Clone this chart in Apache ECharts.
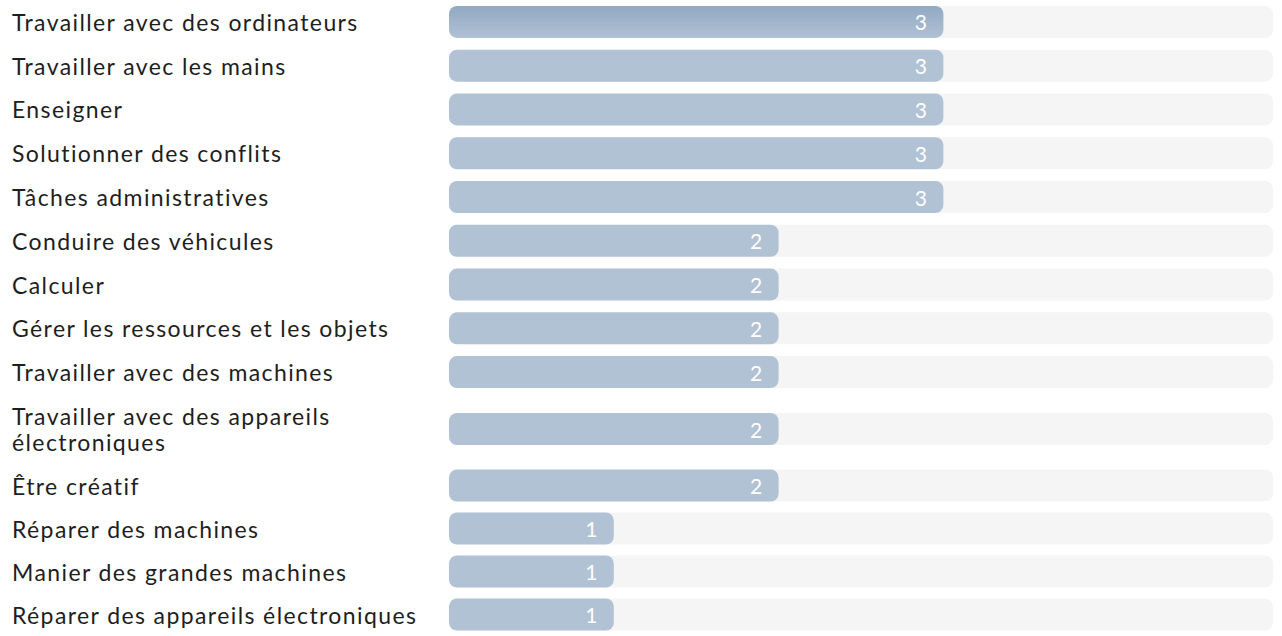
<!DOCTYPE html>
<html>
<head>
<meta charset="utf-8">
<script src="https://cdn.jsdelivr.net/npm/echarts@6/dist/echarts.min.js"></script>
<style>
html,body{margin:0;padding:0;background:#fff;}
#chart{width:1282px;height:636px;}
#chart text{letter-spacing:1.4px;}
</style>
</head>
<body>
<div id="chart"></div>
<script>
const categories = [
  'Travailler avec des ordinateurs',
  'Travailler avec les mains',
  'Enseigner',
  'Solutionner des conflits',
  'Tâches administratives',
  'Conduire des véhicules',
  'Calculer',
  'Gérer les ressources et les objets',
  'Travailler avec des machines',
  'Travailler avec des appareils électroniques',
  'Être créatif',
  'Réparer des machines',
  'Manier des grandes machines',
  'Réparer des appareils électroniques'
];
const values = [3, 3, 3, 3, 3, 2, 2, 2, 2, 2, 2, 1, 1, 1];
const maxValue = 5;

// row groups (to reproduce the uneven row spacing around the two-line label)
const groups = [
  {from: 0, to: 9, top: -2, height: 396},
  {from: 9, to: 10, top: 407, height: 44},
  {from: 10, to: 14, top: 464, height: 176}
];

const font = 'Lato, "Noto Sans", sans-serif';
const grids = [], xAxes = [], yAxes = [], series = [];
groups.forEach((g, gi) => {
  grids.push({left: 449, width: 824, top: g.top, height: g.height, containLabel: false});
  xAxes.push({type: 'value', gridIndex: gi, min: 0, max: maxValue, show: false});
  yAxes.push({
    type: 'category', gridIndex: gi, inverse: true,
    data: categories.slice(g.from, g.to),
    axisLine: {show: false}, axisTick: {show: false},
    axisLabel: {
      align: 'left', margin: 437, color: '#1e1e1e', fontSize: 23,
      fontFamily: font, width: 420, overflow: 'break', lineHeight: 26
    }
  });
  series.push({
    type: 'bar', xAxisIndex: gi, yAxisIndex: gi, barWidth: 32,
    showBackground: true,
    backgroundStyle: {color: '#f5f5f5', borderRadius: 8},
    itemStyle: {color: '#b1c2d5', borderRadius: 8},
    label: {
      show: true, position: 'insideRight', distance: 15,
      color: '#ffffff', fontSize: 21, fontFamily: font
    },
    silent: true,
    data: values.slice(g.from, g.to).map((v, i) => (g.from + i === 0) ? {
      value: v,
      itemStyle: {color: new echarts.graphic.LinearGradient(0, 0, 0, 1, [
        {offset: 0, color: '#91a9c2'}, {offset: 1, color: '#b0c1d4'}
      ])}
    } : v)
  });
});

const chart = echarts.init(document.getElementById('chart'), null, {renderer: 'svg'});
chart.setOption({
  animation: false,
  grid: grids, xAxis: xAxes, yAxis: yAxes, series: series
});
</script>
</body>
</html>
